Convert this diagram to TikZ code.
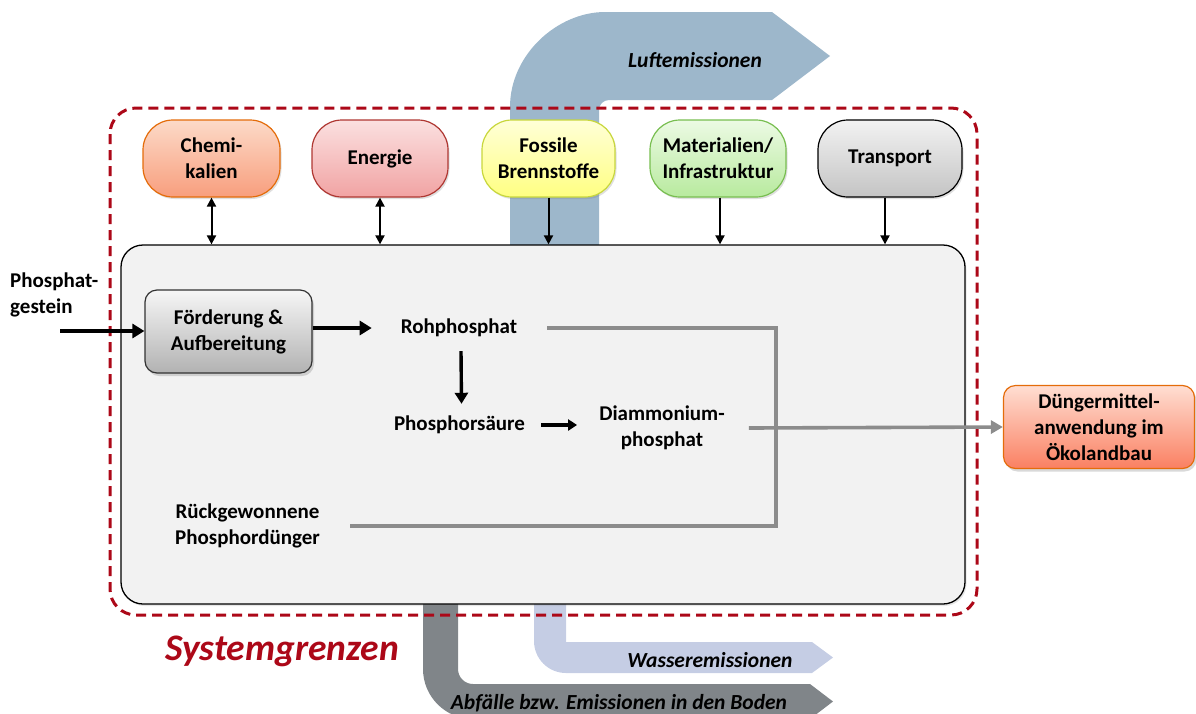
\documentclass[tikz,border=0pt]{standalone}
\usepackage{fontspec}
\setmainfont{Carlito}
\usetikzlibrary{arrows.meta,shadows}

\definecolor{bred}{RGB}{172,8,24}
\definecolor{luftc}{RGB}{157,183,203}
\definecolor{wasserc}{RGB}{197,205,228}
\definecolor{abfc}{RGB}{128,133,137}
\definecolor{mainfill}{RGB}{242,242,242}
\definecolor{greyln}{RGB}{140,140,140}
\definecolor{orbord}{RGB}{228,108,10}

\begin{document}
\begin{tikzpicture}[x=1pt,y=-1pt,
  font=\bfseries\fontsize{21}{26}\selectfont,
  topbox/.style={draw, line width=1.2pt, rounded corners=30pt, minimum height=77pt,
     align=center, inner sep=0pt,
     drop shadow={shadow xshift=1.5pt,shadow yshift=-2pt,opacity=0.25}},
  procbox/.style={draw, line width=1.2pt, rounded corners=12pt, minimum height=83pt,
     align=center, inner sep=0pt,
     drop shadow={shadow xshift=2pt,shadow yshift=-3pt,opacity=0.3}},
  lbl/.style={align=center, inner sep=0pt},
  thinarr/.style={line width=2pt, -{Triangle[length=9pt,width=9pt]}},
  thinboth/.style={line width=2pt, {Triangle[length=9pt,width=9pt]}-{Triangle[length=9pt,width=9pt]}},
  bigarr/.style={line width=3.8pt, -{Triangle[length=12pt,width=14pt]}},
  greyline/.style={draw=greyln, line width=3.6pt},
  bandtext/.style={font=\bfseries\itshape\fontsize{21.5}{26}\selectfont, inner sep=0pt}
]
\useasboundingbox (0,0) rectangle (1196,713);
\clip (0,0) rectangle (1196,713);

% emission bands
\fill[luftc] (510,245) -- (510,107) .. controls (510,54.5) and (557.5,12) .. (605,12)
   -- (772,12) -- (830,56) -- (772,100) -- (609,100)
   .. controls (603.5,100) and (599,104.5) .. (599,110) -- (599,245) -- cycle;
\fill[abfc] (423,600) -- (423,669) .. controls (423,696.6) and (445.4,719) .. (473,719)
   -- (810,719) -- (833,701.5) -- (810,684) -- (473,684)
   .. controls (464.7,684) and (458,677.3) .. (458,669) -- (458,600) -- cycle;
\fill[wasserc] (534,600) -- (534,641) .. controls (534,658.7) and (548.3,673) .. (566,673)
   -- (812,673) -- (833,657.5) -- (812,642) -- (566,642) -- (566,600) -- cycle;

\node[bandtext, anchor=base] (luft) at (695,67) {Luftemissionen};
\node[bandtext, anchor=base] (wasser) at (710,667) {Wasseremissionen};
\node[bandtext, anchor=base] (abf) at (619,709) {Abfälle bzw. Emissionen in den Boden};

% system boundary
\draw[bred, line width=3pt, dash pattern=on 10pt off 6pt, rounded corners=26pt]
  (110,108) rectangle (977,615);
\node[anchor=base west, inner sep=0pt, text=bred,
  font=\bfseries\itshape\fontsize{37.5}{42}\selectfont] (sys) at (165,660) {Systemgrenzen};

% main process box
\node[draw, line width=1.3pt, fill=mainfill, rounded corners=22pt,
  minimum width=844pt, minimum height=359pt, inner sep=0pt,
  drop shadow={shadow xshift=1.5pt,shadow yshift=-2pt,opacity=0.2}] (main) at (543,424.5) {};

% top input boxes
\node[topbox, draw=orbord, top color={rgb,255:red,252;green,218;blue,200},
  bottom color={rgb,255:red,248;green,158;blue,125}, minimum width=137pt] (chem) at (211.5,158.5) {Chemi-\\kalien};
\node[topbox, draw={rgb,255:red,175;green,55;blue,50}, top color={rgb,255:red,251;green,224;blue,224},
  bottom color={rgb,255:red,241;green,163;blue,163}, minimum width=136pt] (ener) at (380,158.5) {Energie};
\node[topbox, draw={rgb,255:red,200;green,215;blue,60}, top color={rgb,255:red,255;green,255;blue,215},
  bottom color={rgb,255:red,255;green,255;blue,130}, minimum width=133pt] (foss) at (548.5,158.5) {Fossile\\Brennstoffe};
\node[topbox, draw={rgb,255:red,120;green,190;blue,80}, top color={rgb,255:red,236;green,250;blue,228},
  bottom color={rgb,255:red,184;green,234;blue,158}, minimum width=136pt] (mat) at (718,158.5) {Materialien/\\Infrastruktur};
\node[topbox, draw=black, top color={rgb,255:red,242;green,242;blue,242},
  bottom color={rgb,255:red,196;green,196;blue,196}, minimum width=144pt] (trans) at (890,158.5) {Transport};

\draw[thinboth] (chem.south) -- (chem.south |- main.north);
\draw[thinboth] (ener.south) -- (ener.south |- main.north);
\draw[thinarr] (foss.south) -- (foss.south |- main.north);
\draw[thinarr] ([xshift=2pt]mat.south) -- ([xshift=2pt]mat.south |- main.north);
\draw[thinarr] ([xshift=-5pt]trans.south) -- ([xshift=-5pt]trans.south |- main.north);

% inner process
\node[inner sep=0pt, align=left, anchor=west] (gest) at (10,295) {Phosphat-\\gestein};
\coordinate (gin) at (60,331);
\node[procbox, draw={rgb,255:red,50;green,50;blue,50}, top color={rgb,255:red,246;green,246;blue,246},
  bottom color={rgb,255:red,178;green,178;blue,178}, minimum width=167pt] (foerd) at (228.5,331.5) {Förderung \&\\Aufbereitung};
\draw[bigarr] (gin) -- (foerd.west |- gin);

\node[lbl] (roh) at (459,328) {Rohphosphat};
\draw[bigarr] (foerd.east |- roh) -- ([xshift=-29pt]roh.west);

\node[lbl] (saeure) at (459.5,425) {Phosphorsäure};
\draw[bigarr, line width=3.4pt, -{Triangle[length=11pt,width=13pt]}] ([xshift=2pt,yshift=-14pt]roh.south) -- ([xshift=2pt,yshift=12pt]saeure.north);

\node[lbl] (dap) at (662,428) {Diammonium-\\phosphat};
\draw[line width=3.6pt, -{Triangle[length=9pt,width=11pt]}] ([xshift=16pt]saeure.east) -- ([xshift=-22pt]dap.west |- saeure.east);

\node[lbl] (rueck) at (247.5,526) {Rückgewonnene\\Phosphordünger};

\node[procbox, draw=orbord, top color={rgb,255:red,255;green,222;blue,210},
  bottom color={rgb,255:red,250;green,128;blue,98}, minimum width=191pt] (duen) at (1099,427) {Düngermittel-\\anwendung im\\Ökolandbau};

\coordinate (jt) at (776,328);
\coordinate (jb) at (776,526);
\draw[greyline] ([xshift=30pt]roh.east) -- (jt) -- (jb) -- ([xshift=30pt]rueck.east |- jb);
\draw[greyline, -{Triangle[length=12pt,width=13pt]}] ([xshift=24pt]dap.east) -- (duen.west);

\end{tikzpicture}
\end{document}
